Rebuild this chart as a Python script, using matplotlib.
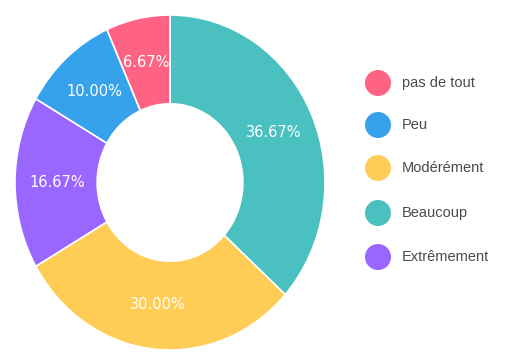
import matplotlib
matplotlib.use("Agg")
import matplotlib.pyplot as plt
from matplotlib.patches import Ellipse

# categories in legend order
labels = ["pas de tout", "Peu", "Modérément", "Beaucoup", "Extrêmement"]
values = [6.67, 10.00, 30.00, 36.67, 16.67]
colors = ["#FF6384", "#36A2EB", "#FFCD56", "#4BC0C0", "#9966FF"]

W, H = 510, 353
fig = plt.figure(figsize=(W / 100, H / 100), dpi=100)

# donut drawn largest first, clockwise from the top
order = sorted(range(len(values)), key=lambda i: -values[i])
ax = fig.add_axes([15 / W, 1 - 350 / H, 310 / W, 335 / H])
wedges, texts = ax.pie(
    [values[i] for i in order],
    colors=[colors[i] for i in order],
    startangle=90, counterclock=False,
    radius=1, wedgeprops=dict(width=0.53, edgecolor="white", linewidth=1.2),
    labels=[f"{values[i]:.2f}%" for i in order],
    labeldistance=0.73,
    textprops=dict(color="white", fontsize=10.5, ha="center", va="center"),
)
ax.set_aspect("auto")
ax.set_xlim(-1, 1)
ax.set_ylim(-1, 1)
ax.axis("off")

# legend drawn by hand
lx = fig.add_axes([0, 0, 1, 1])
lx.set_xlim(0, W)
lx.set_ylim(H, 0)
lx.axis("off")
ys = [83, 125, 168, 213, 257]
for lab, col, y in zip(labels, colors, ys):
    lx.add_patch(Ellipse((378, y), 26, 26, color=col, lw=0))
    lx.text(402, y, lab, fontsize=10.5, color="#4a4a4a", ha="left", va="center",
            family="Liberation Sans")

fig.savefig("out.png", dpi=100)
